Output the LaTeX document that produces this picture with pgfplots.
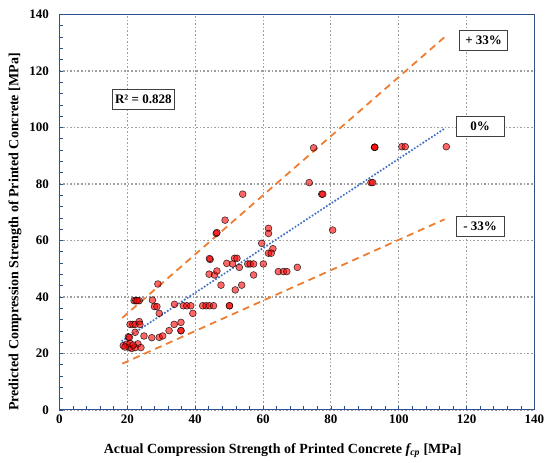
\documentclass[border=0pt]{standalone}
\usepackage{pgfplots}
\pgfplotsset{compat=1.18}
\usepackage{fontspec}
\setmainfont{Liberation Serif}
\definecolor{frameblue}{HTML}{2F4F8F}
\definecolor{xlorange}{HTML}{ED7D31}
\definecolor{xlblue}{HTML}{4472C4}
\begin{document}
\begin{tikzpicture}
\path[use as bounding box] (-59.5pt,-53pt) rectangle (490.5pt,410pt);
\begin{axis}[
  scale only axis, width=475pt, height=395.5pt,
  xmin=0, xmax=140, ymin=0, ymax=140,
  xtick distance=20, ytick distance=20, minor tick num=4,
  tick align=inside, xtick pos=bottom, ytick pos=left,
  major tick length=4pt, minor tick length=4pt,
  every tick/.append style={frameblue, line width=0.6pt},
  axis line style={frameblue, line width=1pt},
  xmajorgrids=true, ymajorgrids=true,
  major grid style={color=black!38, line width=1.1pt, dash pattern=on 1.6pt off 2pt},
  /pgf/number format/assume math mode=true,
  ticklabel style={font=\fontsize{13}{15}\selectfont\bfseries},
  yticklabel style={xshift=-7pt},
  xticklabel style={yshift=-1pt},
  xlabel={Actual Compression Strength of Printed Concrete \textit{f\textsubscript{cp}} [MPa]},
  ylabel={Predicted Compression Strength of Printed Concrete [MPa]},
  label style={font=\fontsize{14}{16}\selectfont\bfseries},
  xlabel style={at={(axis description cs:0.47,0)}, anchor=center, yshift=-41pt},
  ylabel style={at={(axis description cs:-0.0937,0.45)}, anchor=center},
]
\addplot[xlorange, line width=1.8pt, dash pattern=on 7pt off 5pt] coordinates {(18.5,32.6) (113.5,132)};
\addplot[xlorange, line width=1.8pt, dash pattern=on 7pt off 5pt] coordinates {(18.5,16.4) (113.5,67.5)};
\addplot[xlblue, line width=2.4pt, line cap=round, dash pattern=on 0pt off 3.4pt] coordinates {(18.5,24.5) (113.5,99.6)};
\addplot[only marks, mark=*, mark size=3.4pt,
  mark options={fill=red, fill opacity=0.6, draw=black, draw opacity=0.75, line width=0.6pt}]
coordinates {
(18.8,22.8) (19.8,23.3) (20.5,22.1) (21.3,21.8) (22.3,22.1) (23.1,23.4) (24.0,22.1) (20.8,23.6) (20.3,25.9) (19.3,22.3) (21.7,23.0)
(29.0,44.6) (22.0,38.7) (22.5,38.7) (23.5,38.7) (22.9,38.7) (27.4,38.9) (28.0,36.6) (28.7,36.6) (29.4,34.2)
(33.9,37.4) (36.5,36.9) (37.5,36.9) (38.7,36.9) (39.3,34.2) (42.2,36.9) (43.2,36.9) (44.2,36.9) (45.4,36.9) (50.1,36.9) (50.1,36.9)
(20.8,30.3) (21.6,30.3) (22.3,30.3) (23.5,31.3) (23.7,30.3) (22.3,27.5) (20.6,25.7)
(24.9,26.2) (27.2,25.6) (29.4,25.7) (30.4,26.2) (32.3,28.1) (33.8,30.3) (35.8,31.0) (35.8,28.1) (35.8,28.1)
(54.0,76.4) (48.8,67.2) (46.2,62.5) (46.4,62.8) (73.6,80.5) (74.9,92.8) (77.3,76.4) (77.6,76.4) (80.5,63.7)
(61.6,64.3) (61.6,62.5) (59.6,59.0) (62.9,57.1) (61.6,55.5) (62.4,55.5) (70.1,50.5) (64.5,49.0) (66.0,49.0) (67.0,49.0)
(60.1,51.7) (57.2,47.8) (55.5,51.7) (56.2,51.7) (57.2,51.7) (53.0,50.5) (51.6,53.7) (52.3,53.7) (51.0,51.7) (49.3,51.9)
(53.7,44.2) (51.8,42.5) (47.6,44.2) (44.4,53.3) (44.2,53.6) (44.1,48.1) (45.7,47.8) (46.4,49.2)
(92.9,93.0) (92.9,93.0) (92.9,93.0) (100.9,93.2) (101.9,93.2) (114.0,93.2) (91.8,80.5) (92.3,80.5)
};
\node[draw=black!75, fill=white, line width=0.6pt, minimum width=48pt, minimum height=20pt, inner sep=2pt, font=\fontsize{13}{15}\selectfont\bfseries] at (axis cs:125,131) {+ 33\%};
\node[draw=black!75, fill=white, line width=0.6pt, minimum width=48pt, minimum height=20pt, inner sep=2pt, font=\fontsize{13}{15}\selectfont\bfseries] at (axis cs:124,100.3) {0\%};
\node[draw=black!75, fill=white, line width=0.6pt, minimum width=48pt, minimum height=20pt, inner sep=2pt, font=\fontsize{13}{15}\selectfont\bfseries] at (axis cs:124,65.1) {- 33\%};
\node[draw=black!75, fill=white, line width=0.6pt, minimum height=20pt, inner sep=3pt, font=\fontsize{13}{15}\selectfont\bfseries] at (axis cs:24.7,110) {R² = 0.828};
\end{axis}
\end{tikzpicture}
\end{document}
